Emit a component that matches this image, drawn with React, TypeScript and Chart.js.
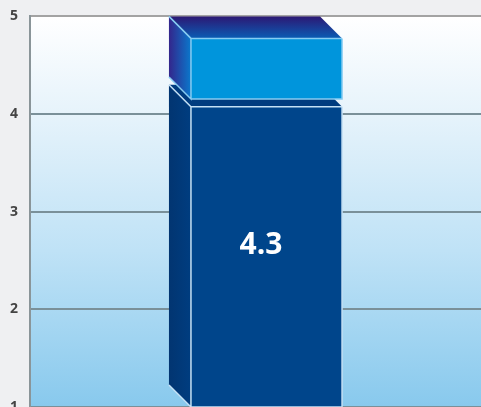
import React, { useEffect, useRef } from "react";
import { Chart, registerables } from "chart.js";

Chart.register(...registerables);

const categories: string[] = [""];
const baseSeries: [number, number][] = [[1, 4.3]];
const topSeries: [number, number][] = [[4.38, 5]];
const valueLabels: string[] = ["4.3"];
const yTicks: number[] = [1, 2, 3, 4, 5];

const DX = 22;
const DY = 22;

const bgPlugin = {
  id: "bgPlugin",
  beforeDraw(chart: any) {
    const { ctx, chartArea, width, height } = chart;
    ctx.save();
    ctx.fillStyle = "#eff0f2";
    ctx.fillRect(0, 0, width, height);
    const g = ctx.createLinearGradient(0, chartArea.top, 0, chartArea.bottom);
    g.addColorStop(0, "#ffffff");
    g.addColorStop(0.25, "#e6f3fb");
    g.addColorStop(0.6, "#bfe2f6");
    g.addColorStop(1, "#88c9ed");
    ctx.fillStyle = g;
    ctx.fillRect(chartArea.left, chartArea.top, chartArea.right - chartArea.left, chartArea.bottom - chartArea.top);
    ctx.restore();
  },
};

const box3dPlugin = {
  id: "box3d",
  afterDatasetsDraw(chart: any) {
    const { ctx, chartArea } = chart;
    chart.data.datasets.forEach((ds: any, di: number) => {
      const meta = chart.getDatasetMeta(di);
      meta.data.forEach((el: any, idx: number) => {
        const p = el.getProps(["x", "y", "base", "width"], true);
        const top = Math.min(p.y, p.base);
        const bottom = Math.max(p.y, p.base);
        const atAxis = bottom >= chartArea.bottom - 0.5;
        const backL = p.x - p.width / 2 - DX / 2;
        const backR = backL + p.width;
        const frontL = backL + DX;
        const frontR = backR + DX;
        const backTop = top;
        const frontTop = top + DY;
        const frontBottom = atAxis ? bottom : bottom + DY;
        const backBottom = atAxis ? bottom - DY : bottom;
        const c = ds.faceColors;
        ctx.save();
        let sideFill: any = c.side;
        if (Array.isArray(c.side)) {
          const g = ctx.createLinearGradient(backL, 0, frontL, 0);
          g.addColorStop(0, c.side[0]);
          g.addColorStop(1, c.side[1]);
          sideFill = g;
        }
        ctx.beginPath();
        ctx.moveTo(backL, backTop);
        ctx.lineTo(frontL, frontTop);
        ctx.lineTo(frontL, frontBottom);
        ctx.lineTo(backL, backBottom);
        ctx.closePath();
        ctx.fillStyle = sideFill;
        ctx.fill();
        let topFill: any = c.top;
        if (Array.isArray(c.top)) {
          const g = ctx.createLinearGradient(0, backTop, 0, frontTop);
          g.addColorStop(0, c.top[0]);
          g.addColorStop(1, c.top[1]);
          topFill = g;
        }
        ctx.beginPath();
        ctx.moveTo(backL, backTop);
        ctx.lineTo(backR, backTop);
        ctx.lineTo(frontR, frontTop);
        ctx.lineTo(frontL, frontTop);
        ctx.closePath();
        ctx.fillStyle = topFill;
        ctx.fill();
        ctx.fillStyle = c.front;
        ctx.fillRect(frontL, frontTop, p.width, frontBottom - frontTop);
        ctx.strokeStyle = c.edge;
        ctx.lineWidth = 1.5;
        ctx.beginPath();
        ctx.moveTo(backL, backTop);
        ctx.lineTo(frontL, frontTop);
        ctx.lineTo(frontR, frontTop);
        ctx.moveTo(frontL, frontTop);
        ctx.lineTo(frontL, frontBottom);
        ctx.lineTo(backL, backBottom);
        ctx.moveTo(frontL, frontBottom);
        ctx.lineTo(frontR, frontBottom);
        ctx.lineTo(frontR, frontTop);
        ctx.stroke();
        const lbl = ds.valueLabels ? ds.valueLabels[idx] : null;
        if (lbl) {
          ctx.fillStyle = "#ffffff";
          ctx.font = "bold 30px 'Open Sans', 'DejaVu Sans', sans-serif";
          ctx.textAlign = "center";
          ctx.textBaseline = "middle";
          ctx.fillText(lbl, p.x + DX / 4, (top + bottom) / 2);
        }
        ctx.restore();
      });
    });
  },
};

export default function App() {
  const ref = useRef<HTMLCanvasElement | null>(null);
  useEffect(() => {
    document.body.style.margin = "0";
    const canvas = ref.current;
    if (!canvas) return;
    const chart = new Chart(canvas, {
      type: "bar",
      data: {
        labels: categories,
        datasets: [
          {
            label: "base",
            data: baseSeries as any,
            backgroundColor: "rgba(0,0,0,0)",
            borderWidth: 0,
            grouped: false,
            faceColors: { front: "#00458b", side: ["#023571", "#003d80"], top: "#003c7f", edge: "#c4e0f4" },
            valueLabels: valueLabels,
          } as any,
          {
            label: "top",
            data: topSeries as any,
            backgroundColor: "rgba(0,0,0,0)",
            borderWidth: 0,
            grouped: false,
            faceColors: { front: "#0095dc", side: ["#33268c", "#0a78cc"], top: ["#2c1874", "#0a5cb4"], edge: "#86ccf2" },
          } as any,
        ],
      },
      options: {
        responsive: false,
        animation: false,
        maintainAspectRatio: false,
        layout: { padding: { top: 11, right: 0, bottom: 23, left: 0 } },
        plugins: { legend: { display: false }, tooltip: { enabled: false } },
        datasets: { bar: { categoryPercentage: 1, barPercentage: 0.335 } },
        scales: {
          x: { display: false },
          y: {
            min: 1,
            max: 5,
            afterFit: (s: any) => {
              s.width = 30;
            },
            afterBuildTicks: (s: any) => {
              s.ticks = yTicks.map((v) => ({ value: v }));
            },
            ticks: {
              color: "#444444",
              padding: 12,
              font: { size: 14, weight: "bold", family: "'Open Sans', 'DejaVu Sans', sans-serif" },
            },
            grid: {
              drawTicks: false,
              lineWidth: 2,
              color: (ctx: any) => (ctx.tick && ctx.tick.value === 5 ? "#a3a3a3" : "#7a9099"),
            },
            border: { display: true, color: "#8a9599", width: 2 },
          },
        },
      },
      plugins: [bgPlugin, box3dPlugin],
    });
    return () => chart.destroy();
  }, []);
  return (
    <div style={{ width: 481, height: 407, overflow: "hidden", background: "#eff0f2" }}>
      <canvas ref={ref} width={481} height={434} style={{ display: "block", marginTop: -4 }} />
    </div>
  );
}
